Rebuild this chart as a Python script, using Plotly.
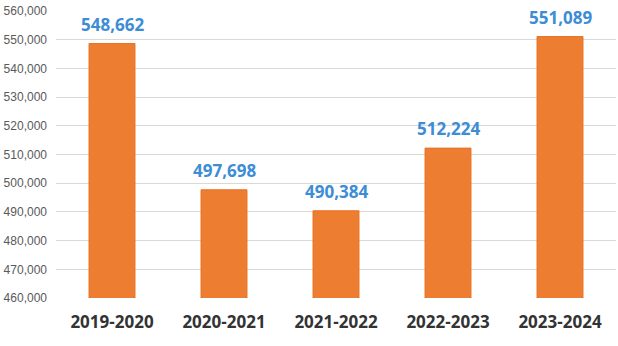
import plotly.graph_objects as go

categories = ["2019-2020", "2020-2021", "2021-2022", "2022-2023", "2023-2024"]
values = [548662, 497698, 490384, 512224, 551089]
y_ticks = list(range(460000, 560001, 10000))

fig = go.Figure()
fig.add_trace(go.Bar(
    x=categories, y=values,
    marker=dict(color="#ED7D31", line=dict(color="#E97024", width=1)),
    width=0.41,
))
for c, v in zip(categories, values):
    fig.add_annotation(
        x=c, y=v, text=f"<b>{v:,}</b>", showarrow=False,
        yanchor="bottom", yshift=6,
        font=dict(family="Open Sans", size=17, color="#3C8DD6"),
    )
fig.update_layout(
    width=618, height=346,
    margin=dict(l=56, r=2, t=11, b=48),
    paper_bgcolor="white", plot_bgcolor="white",
    showlegend=False,
    xaxis=dict(
        tickfont=dict(family="Open Sans", size=17, color="#333333"),
        tickprefix="<b>", ticksuffix="</b>",
        showline=False, ticks="",
        ticklabelstandoff=12,
    ),
    yaxis=dict(
        range=[460000, 560000],
        tickvals=y_ticks,
        ticktext=[f"{v:,}" for v in y_ticks],
        tickfont=dict(family="Liberation Sans", size=12, color="#595959"),
        gridcolor="#D9D9D9", zeroline=False, ticks="",
        ticklabelstandoff=8,
    ),
)
fig.write_html("out.html")
